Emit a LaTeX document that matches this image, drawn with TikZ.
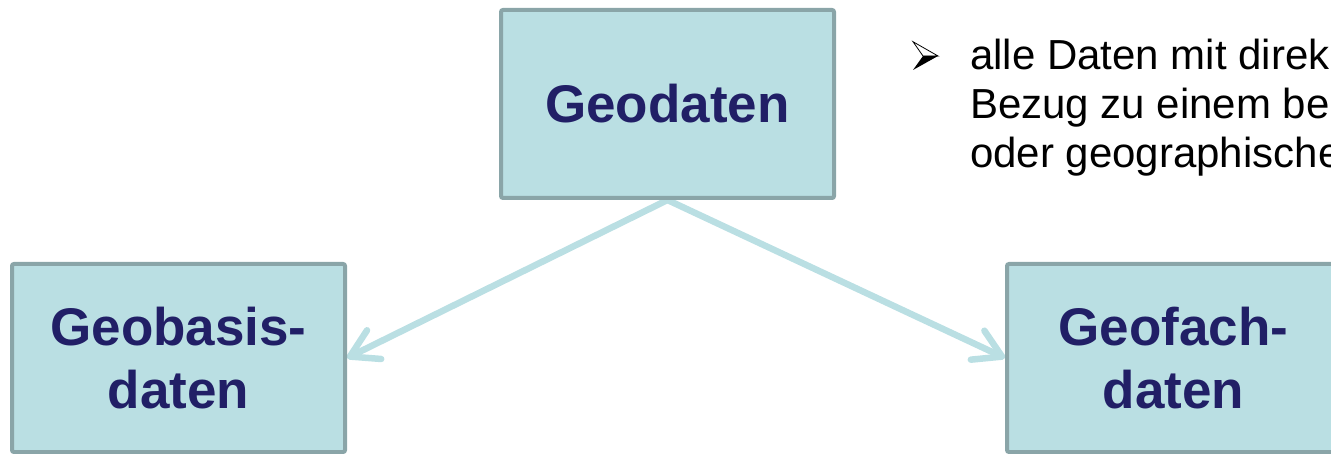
\documentclass[tikz,border=0pt]{standalone}
\usepackage{fontspec}
\setmainfont{Liberation Sans}
\usetikzlibrary{arrows.meta,backgrounds}
\definecolor{boxfill}{RGB}{186,223,227}
\definecolor{boxline}{RGB}{138,165,168}
\definecolor{boxtext}{RGB}{33,31,102}
\definecolor{arrowcol}{RGB}{186,223,227}
\tikzset{
  databox/.style={draw=boxline, fill=boxfill, line width=4pt, rounded corners=2pt,
    minimum width=333pt, minimum height=188pt, inner sep=0pt, text=boxtext,
    font=\fontsize{53}{63.3}\selectfont\bfseries, align=center},
  link/.style={draw=arrowcol, line width=6.5pt, line cap=round,
    -{Straight Barb[length=27pt,width=32pt,round]}},
  bullettext/.style={anchor=base west, inner sep=0pt, font=\fontsize{42}{46}\selectfont, text=black}
}
\begin{document}
\begin{tikzpicture}[x=1pt,y=-1pt]
\clip (0,0) rectangle (1331,454);
\node[databox] (geo) at (667.5,104) {Geodaten};
\node[databox] (basis) at (178.5,358) {Geobasis-\\daten};
\node[databox] (fach) at (1173.5,358) {Geofach-\\daten};
\begin{scope}[on background layer]
\draw[link] (geo.south) -- (basis.east);
\draw[link] (geo.south) -- (fach.west);
\end{scope}
% bullet
\fill[black] (923,56) -- (938,56) -- (913,70) -- cycle;
\draw[black, line width=0.8pt, line join=miter] (913,41.7) -- (938,56) -- (923,56) -- cycle;
\node[bullettext] (l1) at (970,70) {alle Daten mit direk};
\node[bullettext] (l2) at (970,119) {Bezug zu einem be};
\node[bullettext] (l3) at (970,167.5) {oder geographische};
\end{tikzpicture}
\end{document}
